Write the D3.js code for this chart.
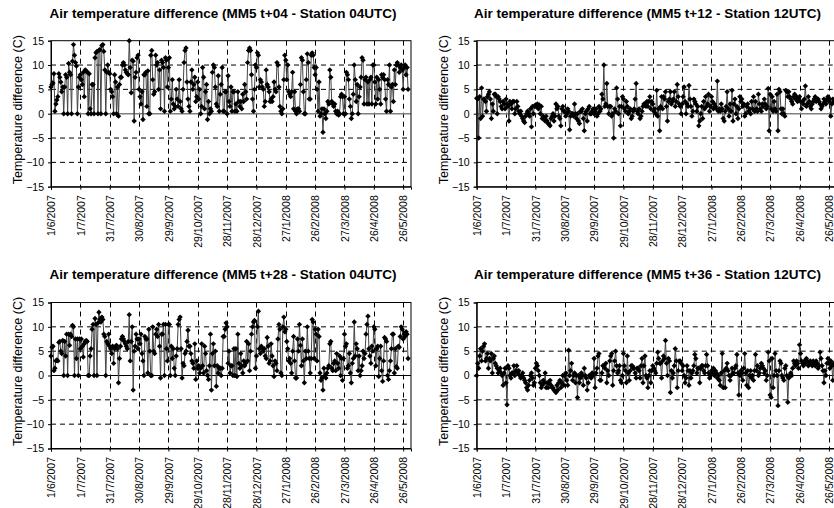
<!DOCTYPE html>
<html>
<head>
<meta charset="utf-8">
<script src="https://cdn.jsdelivr.net/npm/d3@7"></script>
<style>
  html, body { margin: 0; padding: 0; background: #fff; }
  svg { display: block; }
  text { font-family: "Liberation Sans", Arial, sans-serif; }
</style>
</head>
<body>
<svg id="chart" width="834" height="508"></svg>
<script>
// ---------------- DATA ----------------
const startDate = "2007-06-01";   // first day of each series (daily values)
const endDate = "2008-06-03";     // end of axis range
const xTickLabels = ["1/6/2007","1/7/2007","31/7/2007","30/8/2007","29/9/2007","29/10/2007","28/11/2007","28/12/2007","27/1/2008","26/2/2008","27/3/2008","26/4/2008","26/5/2008"];
const yTickValues = [-15,-10,-5,0,5,10,15];
const yAxisTitle = "Temperature difference (C)";
const titles = [
  "Air temperature difference (MM5 t+04 - Station 04UTC)",
  "Air temperature difference (MM5 t+12 - Station 12UTC)",
  "Air temperature difference (MM5 t+28 - Station 04UTC)",
  "Air temperature difference (MM5 t+36 - Station 12UTC)"
];

const diffT04 = [
  5.5,6,6.3,8.2,0.5,2,2.8,3.5,8.2,7.5,6.5,4.5,5.5,0,5.5,8,7.5,0,10.3,8.5,8,0,10.8,14.2,12,10.5,9.8,0,5.5,7.5,
  8,7,6,8.5,3.5,9,8.8,8.5,0,8.2,1,0,6,6,0,11.5,12.5,12.8,0,13,13.2,0,14,14.2,12.8,9,0,8.5,10,8.5,
  8.2,5,4.5,3.5,0,8,6.5,0,5.5,-0.5,6,7.5,7.5,10,10.5,10,9,8.5,8.2,8,15,9.5,4.3,11,10.8,-1.5,7.5,8.5,11.5,12,
  5,3.5,2,4.5,-1.2,8,8,8.5,1.5,8.8,0,0,12,13,7,4,4.5,12,10,10.5,5,9,1,11,10.5,9.5,0.5,11.5,11,5.5,
  9.5,11.5,0.5,3,7,2,1,1.5,5,3,1.5,7,2.5,1,0.5,5,10.5,13,13.5,6.5,3,1.5,0.5,6.5,9,5,6,7.5,2.5,3.5,
  6.5,3,5,0,1.5,9.5,7.5,1,4.5,6,-1.2,2.5,0,1,0.5,8.5,10,9.5,5.5,2,1.5,7.8,0.5,4,6,9.5,0.5,0.5,4.5,4.5,
  0,7.8,2.5,1.5,5.5,0.5,4.5,4.5,0.5,2,0.5,4.5,2.5,1.5,2.5,1,4,2.5,6,4.5,3,10.5,13,13.5,13,8,3,0.5,5,10,
  9.5,12.5,12,5.5,7,6.5,5.5,5,1.5,2.5,9,6,5.5,4.5,2.5,3,2.5,3.5,6.5,5,4.5,10.5,10,5.5,1.5,0.5,0,1,7,12,
  11,7,10,4.5,4,3.5,4.5,8.5,1,4.5,0.5,0,1,1,0.5,6,11.5,11,4.5,0,0,7,12.3,10.5,3,3,12,12.5,12,9.5,
  8,9.5,5,0.5,6.5,-0.5,0,1,-3.8,1,0,-1,0.5,2.5,2,9,7.5,2.5,2,1.5,2,0.5,0,0.5,-0.3,0,3.5,4,3.5,0,
  3.5,0,8.5,8,7,3,1.5,-1,0,4,10,7,2.5,6,0,3.5,5.5,7.5,11.5,11,2,7,7.5,2,6.5,2,7,7.5,2,10,
  10,6.5,2,7.5,3,7,5,2,8,7.5,8,7,3,0.5,7,6,10,0.5,5.5,6,2.5,9,6,10,10.5,10,8.5,9.5,10,9,5,9.5,10,8,9.5,5
];

const diffT12 = [
  3.2,3,-5,3.5,-1,5.3,-0.5,3,3,2.5,0.5,3.5,4,4.5,3,-1,2,0.5,4,4,3.5,0,3.5,3,2.5,1.5,1,2.5,2,1,
  3,2,1.5,-1.5,2.5,2,1,2.5,2.5,0,1,2.5,1.5,0.5,0,0.5,-0.5,-1,-1.5,-1.8,-0.5,0,0.5,0,-0.5,1,-2.7,1.5,0,1.5,
  1.8,1.5,2,1,1.8,0,1.5,-1,-0.5,-1,-1.5,-0.5,-1.5,-2,-2.2,-2.5,-1,-0.5,0,-1.5,-0.5,2,1,1.5,-0.5,-1,-2.5,1,1.5,0.5,
  0.5,-0.5,0,1,0.5,-3.3,-0.5,0,0,-0.5,2,0,-1,0,-1.5,-2,0.5,0.5,1,-1,-3.5,0,0.5,-1.5,1,1.5,0,0,0.5,1,
  0,0.5,1,-0.5,0,1.5,0.5,1,4,3,10,1.5,2,6.2,1.5,0,1.5,1.5,-0.5,0,-5,1,0.5,5.3,3,0,1.5,-2.5,1.5,3.5,
  3,1,0.5,2.5,1.5,0,0.5,1,-1,-0.5,0.5,1,3,6.2,0.5,0,1,-1,-0.5,0.5,1.5,2,2,1.5,2.5,1.5,2.5,3.5,1,2.5,
  2,0.5,1,0,4.8,-0.5,1,-3.5,1.5,3.5,1,3.5,3,4.5,1.5,-1.5,2.5,3,4.5,2,2.5,3,4.5,1.5,2.5,6,3.5,2,1.5,0,
  2,3.5,5.5,2.5,0,2,1.5,5.8,3,1.5,-0.5,0.5,3,2.5,2,0.5,1.5,-2.5,-1.5,0,1.5,-1,2.5,1,3.5,1.5,2,4,0.5,1.5,
  3.5,2.5,1,2,1.5,1,6.7,0.5,1,0.5,2,1,-1,-1.5,0.5,1.5,4.5,1,-0.5,2,0.5,4.8,-1.5,2,3,0,1.5,-1,1,3.5,
  2.5,3,1.5,2,-0.5,0,1.5,2,0.5,1,0,2.5,1,3.5,0.5,2.5,1,0.5,4,2,1,0.5,2,1.5,3,2,1,1.5,5.2,-3.5,
  4,1,3.5,0.5,2.5,1,0.5,4,-3.5,5,4.5,1,0,1,0,-0.5,4.8,4.5,3.5,4.5,3.5,3,2.5,2,3.5,4,3,3.5,2.5,3,
  3.5,2.5,1,2.5,2,3,5.7,1.5,2,3.5,2.5,1.5,1,2,2.5,3,3.5,2.5,3,3,2.5,2,1,1.5,2,3,2.5,2,3,3.5,2.5,3,-0.5,2,3,2.5
];

const diffT28 = [
  4,5.8,6,1,1.5,3,3.2,3,6.8,7,5,4.5,7.2,0,7,4,8.5,0,8.5,6.2,8.5,8,10.3,10,0,7.5,3.5,7.5,0,7.5,
  5.5,7.5,6,3.8,6.5,7,7.2,7,0,0,4,5.5,9.5,10.5,0,11.7,10.5,0,10.8,13,11.5,11,12,11.5,8.5,8,0,7,6.5,8.5,
  6,5.5,4.5,6,2.5,5.5,6,6.2,5.5,-1.5,3.5,6,7.5,8,7.5,7,6.5,6,5.5,7,12.5,3,7,10,-3,5,6,8.5,7.5,5.5,
  7.5,6.5,8.5,4.5,3,0,8,7.5,7.5,0.5,9.5,5,0,0,10,5,4.5,8.5,9.5,8,10.5,6,-0.5,8.5,8.5,10.5,0,10.5,5.5,3,
  10.5,10.5,0,6,3.5,5.5,1.5,0,4,5.5,10.5,11.5,12,5.5,-0.5,2.5,2,4.5,5,7,9.3,6,6,4.5,3,2.5,1.5,6.5,-0.8,3,
  1.5,2,0.5,1.5,6.5,2,0.5,6,4.5,1,0,-0.8,2,8.5,-3,4.5,6.5,2,5,-2.2,2,0.5,1.5,1.5,0,1.5,8,8,9.5,10.8,
  10,2.5,5,0.5,2,2,0,5.5,0,5.5,-0.2,8.5,2.5,1.5,4.5,2,0.5,3,2,2.5,7,3,6.5,1,5,8.5,10,11,11.3,1.5,
  4,10,13.2,5.5,4.5,6,5.5,5,5.5,4,3.5,7.8,6,2.5,3,6.5,4,2,-0.2,3,2.5,1,7.5,10.5,9.5,0.5,0,10,12,9,
  9.5,7,5.5,3,3.5,2.5,0.5,5,8,3,-0.5,-0.5,7.5,5,10.5,6.2,2,7.5,3,-1.5,5,3.5,10,5,3.5,0.5,3.5,11.5,11,3.5,
  9.5,8.5,3,9.5,8,0.5,-1,-0.5,-3,1.5,0,-0.5,0.5,1.5,2,6.5,7,1.5,1,2.5,3,1,4.5,2.5,1.5,4,0,3.5,-1,3.5,
  8.5,6,6.5,1.5,2,4.5,0.5,-1.5,2.5,3.5,11,4,6.5,5.5,1,4,0,1,2,5,3.5,4.5,8.5,10.5,12.2,5.5,4,2.5,6,5,
  10,9.5,2,5.5,6,-0.2,3.5,6,1,-1.2,3,7.8,7.5,7,0,-0.8,1,3,5.5,8.5,8.5,0.5,5.5,1.8,1.5,6,5.8,8,10,9.5,7.5,8.5,8,9,8.5,3.5
];

const diffT36 = [
  0,2.5,1.5,4,5.5,3,5,6,6.5,3,3.5,4.5,1.5,3.5,3,4.5,0.5,3.5,4,2.5,2,1.5,0.5,1,1.5,0.5,0,-2,0.5,1.5,
  -1.5,-6,2,1.5,0,-0.5,0.5,0.5,2,0,1,2,0.5,1,0,-0.5,0,0.5,-0.5,-1,-1.5,-2.5,-3,-2,-1,0,0.5,-0.5,-2,-1.5,
  1.5,2.5,2,1,0,-1.5,-2.5,-2,-1,-1.5,0.5,-2.5,-1.5,-2.5,-1.5,-1,-2,-2.5,-2.5,-3,-3.2,-3.5,-2,-3,-1.5,-1,-2.5,-1.5,0,-2,
  0,0.5,-1,-2,5.2,0,1,2.5,-1,0,0.5,-1.5,0,-4.5,0,-1.5,-0.5,0.5,0,-2,1.5,0,-0.5,-3,-1.5,0,0,-0.5,0.5,0,
  3.5,-2.5,0.5,1.5,4,4.5,-1,-1,0.5,2,2,1.5,2.5,-1.5,1,0,3,4,4.5,-2,1,3,5,2,0.5,1,2,-1,-1.5,0,
  4.5,2,1,-1.5,4,0.5,-1,1,2,2,1.5,1.5,0.5,-0.5,1.5,1.5,1,-0.5,2,3.5,-1.5,2,4,0,-0.5,-2.5,0,1,-1.5,1,
  2,1.5,1,0.5,2.5,4.8,3.5,2.5,2.5,-0.5,3,4,3.5,7.2,2.5,0,3.5,3,-3.5,1,-0.5,0.5,2,5.5,3,-2.5,1,3,3,2.5,
  1,2,0,-1.5,-0.5,2,1,-2,1,-0.5,0.5,1,2,4.3,3.5,0.5,1.5,1.5,-1.5,1.5,2,2,1,0.5,2,4.3,2,0.5,-0.5,0,
  1,0.5,1.5,0,1,0.5,-0.5,0,-1,-2,0.5,4.5,-2.5,1,-2.5,1.5,2.5,1,0,-1,0,1.5,0.5,0.5,1.5,2,4.3,0.5,-4,0,
  1,0.5,-1,1.5,4.5,0.5,-2,1,-2.5,0,1,-0.5,0,-1,1,4.3,1,2,0,0.5,1.5,2.5,2,1.5,0.5,1,-1,0,4.8,3,
  -4,-4.5,3.5,-2.5,0,4.5,1,0,-6.2,1,3,2.5,0,-0.5,-1,1.5,2,0,-5.5,-0.5,0,0.5,0,1.5,3,2.5,2,3,2.5,1.5,
  6.3,4.5,3,2.5,2,3,2.5,3.5,3,2,2.5,3,2.5,2,3,2.5,2,3,2.5,1.5,2,4.8,3.5,2,1,-1.5,1,0,2.5,3.5,2.5,1.5,3,2,-1,2.5
];

// ---------------- LAYOUT ----------------
const panels = [
  { title: titles[0], values: diffT04, left: 51,    top: 40.7,  zero: "#808080", zw: 1.6, titleX: 223,   titleY: 18,  ylabX: 18  },
  { title: titles[1], values: diffT12, left: 476.7, top: 40.7,  zero: "#808080", zw: 1.6, titleX: 647.5, titleY: 18,  ylabX: 444 },
  { title: titles[2], values: diffT28, left: 51,    top: 302.5, zero: "#000",    zw: 1.2, titleX: 223,   titleY: 279, ylabX: 18  },
  { title: titles[3], values: diffT36, left: 476.7, top: 302.5, zero: "#000",    zw: 1.2, titleX: 647.5, titleY: 279, ylabX: 444 }
];
const plotW = 360, plotH = 146;
const FONT = "'Liberation Sans', Arial, sans-serif";

const parseIso = d3.utcParse("%Y-%m-%d");
const parseTick = d3.utcParse("%d/%m/%Y");
const t0 = parseIso(startDate), t1 = parseIso(endDate);
const tickDates = xTickLabels.map(parseTick);

const svg = d3.select("#chart");
svg.append("rect").attr("width", 834).attr("height", 508).attr("fill", "#fff");

const diamond = "M0,-2.7L2.7,0L0,2.7L-2.7,0Z";

panels.forEach(p => {
  const x = d3.scaleUtc().domain([t0, t1]).range([p.left, p.left + plotW]);
  const y = d3.scaleLinear().domain([-15, 15]).range([p.top + plotH, p.top]);
  const g = svg.append("g");

  g.append("rect").attr("x", p.left).attr("y", p.top).attr("width", plotW).attr("height", plotH).attr("fill", "#fff");

  // horizontal dashed gridlines
  g.append("g").selectAll("line").data(yTickValues.filter(v => v !== 0 && v !== 15 && v !== -15)).join("line")
    .attr("x1", p.left).attr("x2", p.left + plotW)
    .attr("y1", d => y(d)).attr("y2", d => y(d))
    .attr("stroke", "#000").attr("stroke-width", 1).attr("stroke-dasharray", "5,4");

  // vertical dashed gridlines
  g.append("g").selectAll("line").data(tickDates.slice(1)).join("line")
    .attr("x1", d => Math.round(x(d)) + 0.5).attr("x2", d => Math.round(x(d)) + 0.5)
    .attr("y1", p.top).attr("y2", p.top + plotH)
    .attr("stroke", "#000").attr("stroke-width", 1).attr("stroke-dasharray", "5,4");

  // zero line
  g.append("line").attr("x1", p.left).attr("x2", p.left + plotW)
    .attr("y1", y(0)).attr("y2", y(0)).attr("stroke", p.zero).attr("stroke-width", p.zw);

  // data
  const pts = p.values.map((v, i) => ({ date: d3.utcDay.offset(t0, i), v }));
  const line = d3.line().x(d => x(d.date)).y(d => y(d.v));
  g.append("path").datum(pts).attr("d", line).attr("fill", "none")
    .attr("stroke", "#444").attr("stroke-width", 1);
  g.append("g").selectAll("path").data(pts).join("path")
    .attr("d", diamond)
    .attr("transform", d => `translate(${x(d.date)},${y(d.v)})`)
    .attr("fill", "#000");

  // plot border
  g.append("rect").attr("x", p.left).attr("y", p.top).attr("width", plotW).attr("height", plotH)
    .attr("fill", "none").attr("stroke", "#000").attr("stroke-width", 1);

  // y axis
  const ya = g.append("g").attr("transform", `translate(${p.left},0)`)
    .call(d3.axisLeft(y).tickValues(yTickValues).tickSize(3).tickPadding(4).tickFormat(d3.format("d")));
  ya.attr("font-family", FONT);
  ya.select(".domain").attr("stroke", "#000");
  ya.selectAll("text").attr("font-size", "10.5px").attr("fill", "#000");

  // x axis
  const xa = g.append("g").attr("transform", `translate(0,${p.top + plotH})`)
    .call(d3.axisBottom(x).tickValues(tickDates).tickSize(3).tickFormat((d, i) => xTickLabels[i]));
  xa.attr("font-family", FONT);
  xa.select(".domain").attr("stroke", "#000");
  xa.selectAll("text")
    .attr("font-size", "10.5px").attr("fill", "#000")
    .attr("transform", "rotate(-90)")
    .attr("x", -8.5).attr("y", 0).attr("dy", "0.35em")
    .style("text-anchor", "end");

  // y axis title
  svg.append("text")
    .attr("transform", `translate(${p.ylabX},${p.top + plotH / 2 - 4}) rotate(-90)`)
    .attr("text-anchor", "middle").attr("dy", "0.35em")
    .attr("font-size", "12.5px").text(yAxisTitle);

  // chart title
  svg.append("text").attr("x", p.titleX).attr("y", p.titleY)
    .attr("text-anchor", "middle").attr("font-size", "13.5px").attr("font-weight", "bold")
    .text(p.title);
});
</script>
</body>
</html>
